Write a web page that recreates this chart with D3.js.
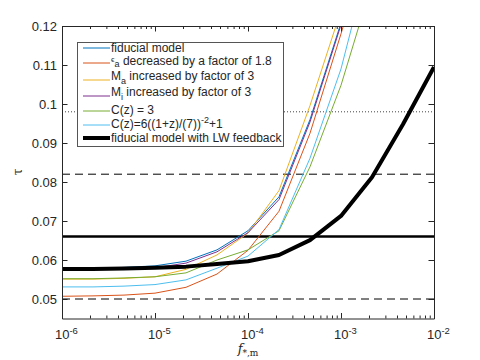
<!DOCTYPE html>
<html>
<head>
<meta charset="utf-8">
<script src="https://cdn.jsdelivr.net/npm/d3@7"></script>
<style>
  body { margin: 0; background: #fff; }
  text { font-family: "Liberation Sans", Arial, sans-serif; fill: #262626; }
</style>
</head>
<body>
<script>
// sample points of f_{*,m} (1/3 decade steps)
var fStar = [1e-6, 2.154e-6, 4.642e-6, 1e-5, 2.154e-5, 4.642e-5, 1e-4,
             2.154e-4, 4.642e-4, 1e-3, 2.154e-3, 4.642e-3, 1e-2];

// tau for each model
var tauFiducial = [0.0578, 0.0579, 0.0581, 0.0585, 0.0597, 0.0626, 0.0675, 0.0762, 0.0960, 0.1208];
var tauEps      = [0.0507, 0.0508, 0.0510, 0.0515, 0.0530, 0.0564, 0.0625, 0.0725, 0.0925, 0.1180, 0.1450];
var tauMa       = [0.0551, 0.0551, 0.0553, 0.0557, 0.0576, 0.0613, 0.0669, 0.0778, 0.0996, 0.1240];
var tauMi       = [0.0577, 0.0577, 0.0578, 0.0580, 0.0592, 0.0621, 0.0670, 0.0755, 0.0954, 0.1203];
var tauC3       = [0.0552, 0.0552, 0.0554, 0.0557, 0.0567, 0.0600, 0.0626, 0.0675, 0.0839, 0.1048, 0.1310];
var tauCz       = [0.0531, 0.0531, 0.0533, 0.0537, 0.0549, 0.0579, 0.0610, 0.0678, 0.0861, 0.1090, 0.1400];
var tauLW       = [0.0577, 0.0577, 0.0578, 0.0580, 0.0583, 0.0590, 0.0597, 0.0613, 0.0651, 0.0713, 0.0812, 0.0948, 0.1095];

var hDashed = [0.082, 0.050];
var hSolid = 0.066;
var hDotted = 0.098;

var yTicks = [0.05, 0.06, 0.07, 0.08, 0.09, 0.1, 0.11, 0.12];
var xTicks = [1e-6, 1e-5, 1e-4, 1e-3, 1e-2];
var xExp = ['-6', '-5', '-4', '-3', '-2'];

var series = [
  { name: 'fiducial', data: tauFiducial, color: '#0072BD', width: 1 },
  { name: 'eps',      data: tauEps,      color: '#D95319', width: 1 },
  { name: 'Ma',       data: tauMa,       color: '#EDB120', width: 1 },
  { name: 'Mi',       data: tauMi,       color: '#7E2F8E', width: 1 },
  { name: 'C3',       data: tauC3,       color: '#77AC30', width: 1 },
  { name: 'Cz',       data: tauCz,       color: '#4DBEEE', width: 1 },
  { name: 'LW',       data: tauLW,       color: '#000000', width: 4 }
];

var WIDTH = 480, HEIGHT = 360;
var L = 62, R = 434, T = 26, B = 318.5;

var svg = d3.select('body').append('svg')
  .attr('width', WIDTH)
  .attr('height', HEIGHT);

var x = d3.scaleLog().domain([1e-6, 1e-2]).range([L, R]);
var y = d3.scaleLinear().domain([0.045, 0.12]).range([B, T]);

svg.append('clipPath').attr('id', 'plotclip')
  .append('rect').attr('x', L).attr('y', T).attr('width', R - L).attr('height', B - T);

var plot = svg.append('g').attr('clip-path', 'url(#plotclip)');

// reference levels
hDashed.forEach(function (v) {
  plot.append('line')
    .attr('x1', L).attr('x2', R).attr('y1', y(v)).attr('y2', y(v))
    .attr('stroke', '#000').attr('stroke-width', 1).attr('stroke-dasharray', '8,5');
});
plot.append('line')
  .attr('x1', L).attr('x2', R).attr('y1', y(hDotted)).attr('y2', y(hDotted))
  .attr('stroke', '#444').attr('stroke-width', 1).attr('stroke-dasharray', '1,2');
plot.append('line')
  .attr('x1', L).attr('x2', R).attr('y1', y(hSolid)).attr('y2', y(hSolid))
  .attr('stroke', '#000').attr('stroke-width', 2.5);

var line = d3.line()
  .x(function (d, i) { return x(fStar[i]); })
  .y(function (d) { return y(d); });

series.forEach(function (s) {
  plot.append('path')
    .datum(s.data)
    .attr('fill', 'none')
    .attr('stroke', s.color)
    .attr('stroke-width', s.width)
    .attr('stroke-linejoin', 'round')
    .attr('d', line);
});

// axes: ticks point inwards, on all four sides
var minorX = [];
[1e-6, 1e-5, 1e-4, 1e-3].forEach(function (d) {
  for (var k = 2; k <= 9; k++) minorX.push(d * k);
});

function styleAxis(g) {
  g.selectAll('path,line').attr('stroke', '#262626');
  g.selectAll('text').style('font-size', '13px').attr('fill', '#262626');
}

var xb = svg.append('g').attr('transform', 'translate(0,' + B + ')')
  .call(d3.axisBottom(x).tickValues(xTicks).tickSize(-5.5).tickSizeOuter(0).tickPadding(11))
  .call(styleAxis);
xb.selectAll('text').each(function (d, i) {
  var t = d3.select(this).text('');
  t.append('tspan').text('10');
  t.append('tspan').attr('dy', '-0.45em').style('font-size', '9.5px').text(xExp[i]);
}).attr('dx', '0.3em');
svg.append('g').attr('transform', 'translate(0,' + B + ')')
  .call(d3.axisBottom(x).tickValues(minorX).tickSize(-3).tickFormat(''))
  .call(styleAxis).select('.domain').remove();

svg.append('g').attr('transform', 'translate(0,' + T + ')')
  .call(d3.axisTop(x).tickValues(xTicks).tickSize(-5.5).tickSizeOuter(0).tickFormat(''))
  .call(styleAxis);
svg.append('g').attr('transform', 'translate(0,' + T + ')')
  .call(d3.axisTop(x).tickValues(minorX).tickSize(-3).tickFormat(''))
  .call(styleAxis).select('.domain').remove();

svg.append('g').attr('transform', 'translate(' + L + ',0)')
  .call(d3.axisLeft(y).tickValues(yTicks).tickSize(-5.5).tickSizeOuter(0).tickPadding(5)
    .tickFormat(function (d) { return d3.format('')(+d.toFixed(2)); }))
  .call(styleAxis);
svg.append('g').attr('transform', 'translate(' + R + ',0)')
  .call(d3.axisRight(y).tickValues(yTicks).tickSize(-5.5).tickSizeOuter(0).tickFormat(''))
  .call(styleAxis);

// axis labels
var xl = svg.append('text')
  .attr('x', 248).attr('y', 353)
  .attr('text-anchor', 'middle')
  .style('font-family', '"DejaVu Serif", "Liberation Serif", serif')
  .style('font-size', '13px');
xl.append('tspan').style('font-style', 'italic').text('f');
xl.append('tspan').attr('dy', 3).style('font-size', '9px').text('*,m');

svg.append('text')
  .attr('transform', 'translate(22,172) rotate(-90)')
  .attr('text-anchor', 'middle')
  .style('font-family', '"DejaVu Serif", "Liberation Serif", serif')
  .style('font-size', '12px')
  .text('τ');

// legend
var legend = svg.append('g');
legend.append('rect')
  .attr('x', 77.5).attr('y', 42.5).attr('width', 206).attr('height', 104)
  .attr('fill', '#fff').attr('stroke', '#555').attr('stroke-width', 1);

var rowY = [48, 63, 80, 96, 111, 125, 138];
var baseY = [51.5, 65, 80, 96, 114, 128, 141.5];

series.forEach(function (s, i) {
  legend.append('line')
    .attr('x1', 83).attr('x2', 110).attr('y1', rowY[i]).attr('y2', rowY[i])
    .attr('stroke', s.color).attr('stroke-width', s.width);
});

function legendText(i) {
  return legend.append('text').attr('x', 111).attr('y', baseY[i]).style('font-size', '12px');
}
legendText(0).text('fiducial model');
var t1 = legendText(1);
t1.append('tspan').attr('dy', -3).style('font-size', '8px').text('ϵ');
t1.append('tspan').attr('dy', 5).style('font-size', '9px').text('a');
t1.append('tspan').attr('dy', -2).text(' decreased by a factor of 1.8');
var t2 = legendText(2);
t2.append('tspan').text('M');
t2.append('tspan').attr('dy', 4).style('font-size', '9px').text('a');
t2.append('tspan').attr('dy', -4).text(' increased by factor of 3');
var t3 = legendText(3);
t3.append('tspan').text('M');
t3.append('tspan').attr('dy', 4).style('font-size', '9px').text('i');
t3.append('tspan').attr('dy', -4).text(' increased by factor of 3');
legendText(4).text('C(z) = 3');
var t5 = legendText(5);
t5.append('tspan').text('C(z)=6((1+z)/(7))');
t5.append('tspan').attr('dy', -5).style('font-size', '9px').text('-2');
t5.append('tspan').attr('dy', 5).text('+1');
legendText(6).text('fiducial model with LW feedback');
</script>
</body>
</html>
